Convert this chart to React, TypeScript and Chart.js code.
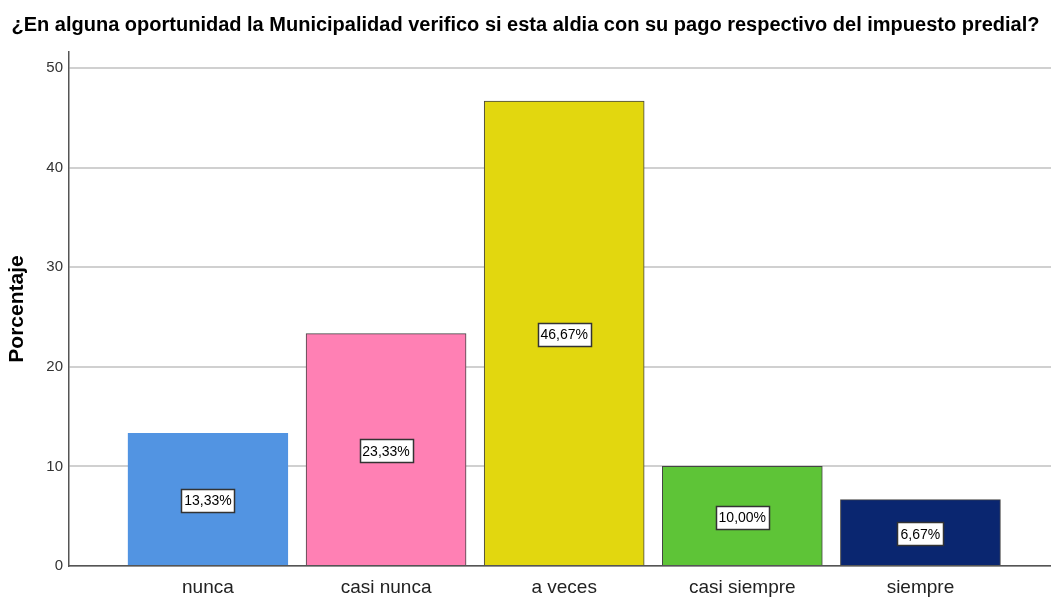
import React, { useEffect, useRef } from "react";
import { Chart, registerables } from "chart.js";

Chart.register(...registerables);

const TITLE = "¿En alguna oportunidad la Municipalidad verifico si esta aldia con su pago respectivo del impuesto predial?";
const categories = ["nunca", "casi nunca", "a veces", "casi siempre", "siempre"];
const percentages = [13.33, 23.33, 46.67, 10.0, 6.67];
const barColors = ["#5294E2", "#FF80B4", "#E2D70F", "#5EC437", "#0A2670"];
const barBorders = ["#5294E2", "#444444", "#444444", "#444444", "#444444"];
const yTicks = [0, 10, 20, 30, 40, 50];

const FONT = "'Liberation Sans', Arial, sans-serif";

const valueBoxes = {
  id: "valueBoxes",
  afterDatasetsDraw(chart: any) {
    const ctx = chart.ctx;
    const meta = chart.getDatasetMeta(0);
    ctx.save();
    ctx.font = `14px ${FONT}`;
    ctx.textAlign = "center";
    ctx.textBaseline = "middle";
    meta.data.forEach((bar: any, i: number) => {
      const { x, y, base } = bar.getProps(["x", "y", "base"], true);
      const label = percentages[i].toFixed(2).replace(".", ",") + "%";
      const w = Math.round(ctx.measureText(label).width + 6);
      const h = 23;
      const cy = (y + base) / 2 + 1.5;
      const left = Math.round(x - w / 2) + 0.5;
      const top = Math.round(cy - h / 2) + 0.5;
      ctx.fillStyle = "#ffffff";
      ctx.fillRect(left, top, w, h);
      ctx.strokeStyle = "#333333";
      ctx.lineWidth = 1.5;
      ctx.strokeRect(left, top, w, h);
      ctx.fillStyle = "#000000";
      ctx.fillText(label, x, cy + 1);
    });
    ctx.restore();
  },
};

export default function App() {
  const ref = useRef<HTMLCanvasElement>(null);
  useEffect(() => {
    document.body.style.margin = "0";
    const chart = new Chart(ref.current!, {
      type: "bar",
      data: {
        datasets: [
          {
            data: percentages.map((v, i) => ({ x: i, y: v })),
            backgroundColor: barColors,
            borderColor: barBorders,
            borderWidth: 1,
            barThickness: 160,
          },
        ],
      },
      options: {
        responsive: false,
        animation: false,
        devicePixelRatio: 1,
        layout: { padding: { left: 0, right: 0, top: 0, bottom: 0 } },
        plugins: {
          legend: { display: false },
          tooltip: { enabled: false },
          title: {
            display: true,
            text: TITLE,
            color: "#000000",
            font: { family: FONT, size: 20, weight: "bold" },
            padding: { top: 13, bottom: 15 },
          },
        },
        scales: {
          x: {
            type: "linear",
            offset: false,
            min: -0.78,
            max: 4.733,
            afterBuildTicks: (scale: any) => {
              scale.ticks = categories.map((_, i) => ({ value: i }));
            },
            afterFit: (scale: any) => {
              scale.height = 33;
            },
            ticks: {
              callback: (v: any) => categories[v as number] ?? "",
              color: "#222222",
              font: { family: FONT, size: 19 },
              padding: 10,
              maxRotation: 0,
              autoSkip: false,
            },
            grid: { display: false, drawTicks: false, offset: false },
            border: { display: true, color: "#555555", width: 1.5 },
          },
          y: {
            min: 0,
            max: 51.6,
            afterBuildTicks: (scale: any) => {
              scale.ticks = yTicks.map((v) => ({ value: v }));
            },
            afterFit: (scale: any) => {
              scale.width = 69;
            },
            ticks: {
              color: "#333333",
              font: { family: FONT, size: 15 },
              padding: 6,
            },
            grid: { color: "#d0d0d0", lineWidth: 2, drawTicks: false },
            border: { display: true, color: "#555555", width: 1.5 },
            title: {
              display: true,
              text: "Porcentaje",
              color: "#000000",
              font: { family: FONT, size: 21, weight: "bold" },
              padding: { top: 5, bottom: 0 },
            },
          },
        },
      },
      plugins: [valueBoxes],
    });
    return () => chart.destroy();
  }, []);
  return (
    <div style={{ width: 1051, height: 599, background: "#ffffff" }}>
      <canvas ref={ref} width={1051} height={599} />
    </div>
  );
}
